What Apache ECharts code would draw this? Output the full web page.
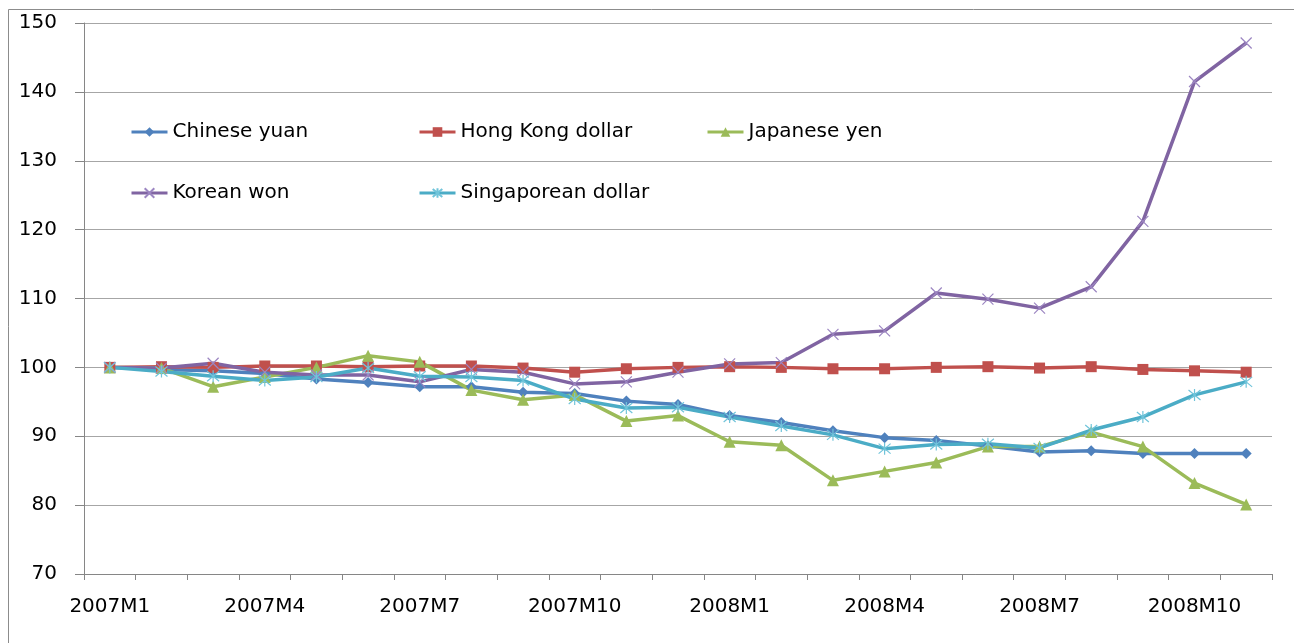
<!DOCTYPE html>
<html>
<head>
<meta charset="utf-8">
<script src="https://cdn.jsdelivr.net/npm/echarts@6/dist/echarts.min.js"></script>
<style>
  html, body { margin: 0; padding: 0; background: #fff; }
  #chart { width: 1294px; height: 643px; }
</style>
</head>
<body>
<div id="chart"></div>
<script>
// months, 2007M1 .. 2008M11
const months = [
  '2007M1', '2007M2', '2007M3', '2007M4', '2007M5', '2007M6', '2007M7', '2007M8',
  '2007M9', '2007M10', '2007M11', '2007M12', '2008M1', '2008M2', '2008M3', '2008M4',
  '2008M5', '2008M6', '2008M7', '2008M8', '2008M9', '2008M10', '2008M11'
];

// index, 2007M1 = 100
const chineseYuan = [100, 99.7, 99.5, 99.1, 98.3, 97.8, 97.2, 97.2, 96.4, 96.2, 95.1, 94.6,
  93.0, 92.0, 90.8, 89.8, 89.4, 88.6, 87.7, 87.9, 87.5, 87.5, 87.5];
const hongKongDollar = [100, 100.1, 100, 100.2, 100.2, 100.1, 100.2, 100.2, 99.9, 99.3, 99.8, 100.0,
  100.1, 100.0, 99.8, 99.8, 100.0, 100.1, 99.9, 100.1, 99.7, 99.5, 99.3];
const japaneseYen = [100, 99.9, 97.2, 98.6, 100.0, 101.7, 100.8, 96.7, 95.3, 96.0, 92.2, 93.0,
  89.2, 88.7, 83.6, 84.9, 86.2, 88.5, 88.5, 90.6, 88.5, 83.2, 80.1];
const koreanWon = [100, 99.9, 100.6, 99.3, 98.9, 98.9, 97.9, 99.7, 99.3, 97.6, 97.9, 99.3,
  100.5, 100.7, 104.8, 105.3, 110.8, 109.9, 108.6, 111.7, 121.2, 141.5, 147.1];
const singaporeanDollar = [100, 99.4, 98.7, 98.1, 98.6, 99.9, 98.7, 98.6, 98.1, 95.4, 94.1, 94.2,
  92.8, 91.5, 90.2, 88.2, 88.8, 88.9, 88.3, 90.9, 92.8, 96.0, 97.9];

const yTicks = [70, 80, 90, 100, 110, 120, 130, 140, 150];

const FONT = 'DejaVu Sans';

// excel-like marker shapes
const xMark = 'path://M0,0L10,10M10,0L0,10';
const starMark = 'path://M0,0L10,10M10,0L0,10M5,-1L5,11';

function mkSeries(name, data, color, symbol, size, markColor, filled) {
  return {
    name: name,
    type: 'line',
    data: data,
    symbol: symbol,
    symbolSize: size,
    showAllSymbol: true,
    lineStyle: { color: color, width: 3.5 },
    itemStyle: filled
      ? { color: color, borderWidth: 0 }
      : { color: 'none', borderColor: markColor, borderWidth: 1.2 },
    emphasis: { disabled: true }
  };
}

const series = [
  mkSeries('Chinese yuan', chineseYuan, '#4F81BD', 'diamond', 11, '#4F81BD', true),
  mkSeries('Hong Kong dollar', hongKongDollar, '#C0504D', 'rect', 11, '#C0504D', true),
  mkSeries('Japanese yen', japaneseYen, '#9BBB59', 'triangle', 12, '#9BBB59', true),
  mkSeries('Korean won', koreanWon, '#8064A2', xMark, 11, '#9C86C2', false),
  mkSeries('Singaporean dollar', singaporeanDollar, '#4BACC6', starMark, 12, '#70C4DA', false)
];

function legendAt(name, left, top) {
  return {
    data: [name],
    left: left,
    top: top,
    itemWidth: 36,
    itemHeight: 12,
    itemGap: 0,
    padding: 0,
    lineStyle: { width: 3 },
    textStyle: { fontFamily: FONT, fontSize: 20, color: '#000', padding: [0, 0, 0, 0] },
    selectedMode: false
  };
}

const chart = echarts.init(document.getElementById('chart'));
chart.setOption({
  animation: false,
  backgroundColor: '#fff',
  graphic: [{
    type: 'rect',
    shape: { x: 8.5, y: 9.5, width: 1400, height: 800 },
    style: { fill: 'none', stroke: '#8c8c8c', lineWidth: 1 },
    silent: true
  }],
  legend: [
    legendAt('Chinese yuan', 130, 122),
    legendAt('Hong Kong dollar', 418, 122),
    legendAt('Japanese yen', 706, 122),
    legendAt('Korean won', 130, 183),
    legendAt('Singaporean dollar', 418, 183)
  ],
  grid: { left: 84, right: 22, top: 23, bottom: 69, containLabel: false },
  xAxis: {
    type: 'category',
    data: months,
    boundaryGap: true,
    axisLine: { lineStyle: { color: '#868686', width: 1 } },
    axisTick: { show: true, interval: 0, length: 6, lineStyle: { color: '#868686' } },
    axisLabel: {
      interval: 2,
      margin: 23,
      fontFamily: FONT,
      fontSize: 20,
      color: '#000'
    },
    splitLine: { show: false }
  },
  yAxis: {
    type: 'value',
    min: yTicks[0],
    max: yTicks[yTicks.length - 1],
    interval: 10,
    axisLine: { show: true, lineStyle: { color: '#868686', width: 1 } },
    axisTick: { show: true, length: 9, lineStyle: { color: '#868686' } },
    axisLabel: {
      margin: 27,
      fontFamily: FONT,
      fontSize: 20,
      color: '#000'
    },
    splitLine: { show: true, lineStyle: { color: '#a6a6a6', width: 1 } }
  },
  series: series
});
</script>
</body>
</html>
